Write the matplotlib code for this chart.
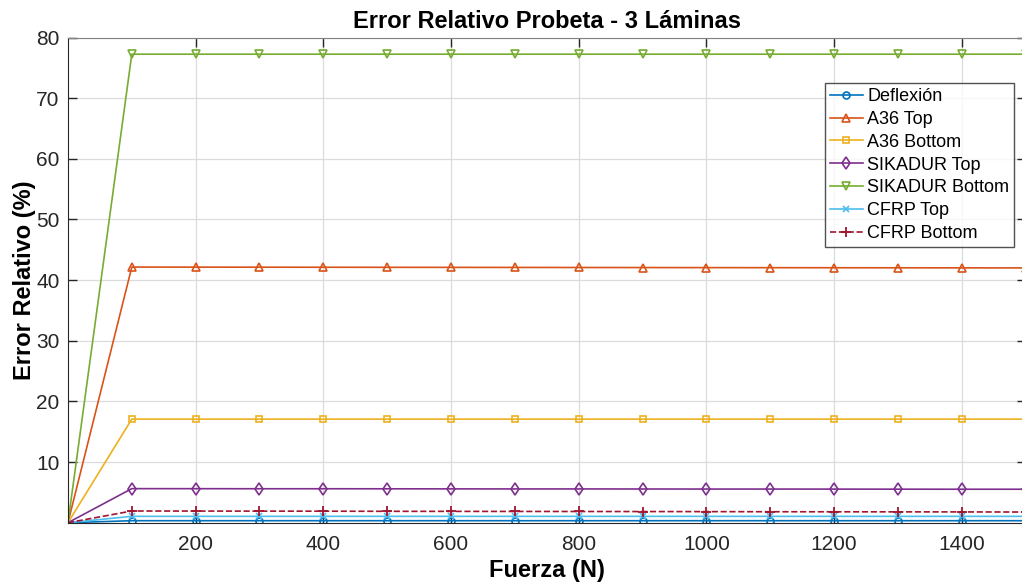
import matplotlib.pyplot as plt

plt.rcParams['font.family'] = ['Liberation Sans', 'DejaVu Sans']

# Fuerza aplicada (N)
fuerza = [0, 100, 200, 300, 400, 500, 600, 700, 800, 900, 1000, 1100, 1200, 1300, 1400, 1500]

# Error relativo (%) por serie
deflexion = [0, 0.33, 0.33, 0.33, 0.33, 0.33, 0.33, 0.33, 0.33, 0.33, 0.33, 0.33, 0.33, 0.33, 0.33, 0.33]
a36_top = [0, 42.15, 42.14, 42.13, 42.12, 42.11, 42.10, 42.09, 42.08, 42.07, 42.06, 42.05, 42.04, 42.03, 42.02, 42.01]
a36_bottom = [0, 17.08, 17.08, 17.08, 17.08, 17.08, 17.08, 17.08, 17.08, 17.08, 17.08, 17.08, 17.08, 17.08, 17.08, 17.08]
sikadur_top = [0, 5.62, 5.61, 5.60, 5.60, 5.59, 5.58, 5.57, 5.57, 5.56, 5.55, 5.55, 5.54, 5.53, 5.52, 5.52]
sikadur_bottom = [0, 77.25, 77.25, 77.25, 77.25, 77.25, 77.25, 77.25, 77.25, 77.25, 77.25, 77.25, 77.25, 77.25, 77.25, 77.25]
cfrp_top = [0, 1.05, 1.05, 1.05, 1.05, 1.05, 1.05, 1.05, 1.05, 1.05, 1.05, 1.05, 1.05, 1.05, 1.05, 1.05]
cfrp_bottom = [0, 1.93, 1.92, 1.91, 1.90, 1.88, 1.87, 1.86, 1.85, 1.84, 1.83, 1.81, 1.80, 1.79, 1.78, 1.76]

xticks = [200, 400, 600, 800, 1000, 1200, 1400]
yticks = [10, 20, 30, 40, 50, 60, 70, 80]

fig = plt.figure(figsize=(10.22, 5.86), dpi=100)
# la caja del grafico se sale un poco por la derecha, como en la captura original
ax = fig.add_axes([0.0665, 0.108, 0.937, 0.828])

me = slice(1, None)
ax.plot(fuerza, deflexion, color='#0072BD', marker='o', ms=5, mfc='none', mew=1.2, lw=1.2, markevery=me, label='Deflexión')
ax.plot(fuerza, a36_top, color='#D95319', marker='^', ms=6, mfc='none', mew=1.2, lw=1.2, markevery=me, label='A36 Top')
ax.plot(fuerza, a36_bottom, color='#EDB120', marker='s', ms=5, mfc='none', mew=1.2, lw=1.2, markevery=me, label='A36 Bottom')
ax.plot(fuerza, sikadur_top, color='#7E2F8E', marker='d', ms=6, mfc='none', mew=1.2, lw=1.2, markevery=me, label='SIKADUR Top')
ax.plot(fuerza, sikadur_bottom, color='#77AC30', marker='v', ms=6, mfc='none', mew=1.2, lw=1.2, markevery=me, label='SIKADUR Bottom')
ax.plot(fuerza, cfrp_top, color='#4DBEEE', marker='x', ms=4, mew=1.2, lw=1.2, markevery=me, label='CFRP Top')
ax.plot(fuerza, cfrp_bottom, color='#A2142F', marker='+', ms=7, mew=1.3, lw=1.2, ls='--', markevery=me, label='CFRP Bottom')

ax.set_xlim(0, 1500)
ax.set_ylim(0, 80)
ax.set_xticks(xticks)
ax.set_yticks(yticks)
ax.grid(True, color='#dcdcdc', lw=0.9)
ax.set_axisbelow(True)
ax.tick_params(direction='in', length=6.5, width=1, colors='#262626', labelsize=15,
               top=True, right=True)
ax.tick_params(axis='x', pad=9)
ax.tick_params(axis='y', pad=6)
for s in ['left', 'bottom']:
    ax.spines[s].set_color('#262626')
for s in ['top', 'right']:
    ax.spines[s].set_color('#808080')

ax.set_title('Error Relativo Probeta - 3 Láminas', fontsize=17, fontweight='bold', pad=7)
ax.set_xlabel('Fuerza (N)', fontsize=17, fontweight='bold', labelpad=3.5)
ax.set_ylabel('Error Relativo (%)', fontsize=17, fontweight='bold', labelpad=0.5)

leg = ax.legend(loc='upper right', bbox_to_anchor=(0.988, 0.906), fontsize=13, frameon=True,
                fancybox=False, edgecolor='#262626', handlelength=1.8, handletextpad=0.25,
                labelspacing=0.32, borderpad=0.28, borderaxespad=0)
leg.get_frame().set_linewidth(1)

fig.savefig('out.png', dpi=100)
